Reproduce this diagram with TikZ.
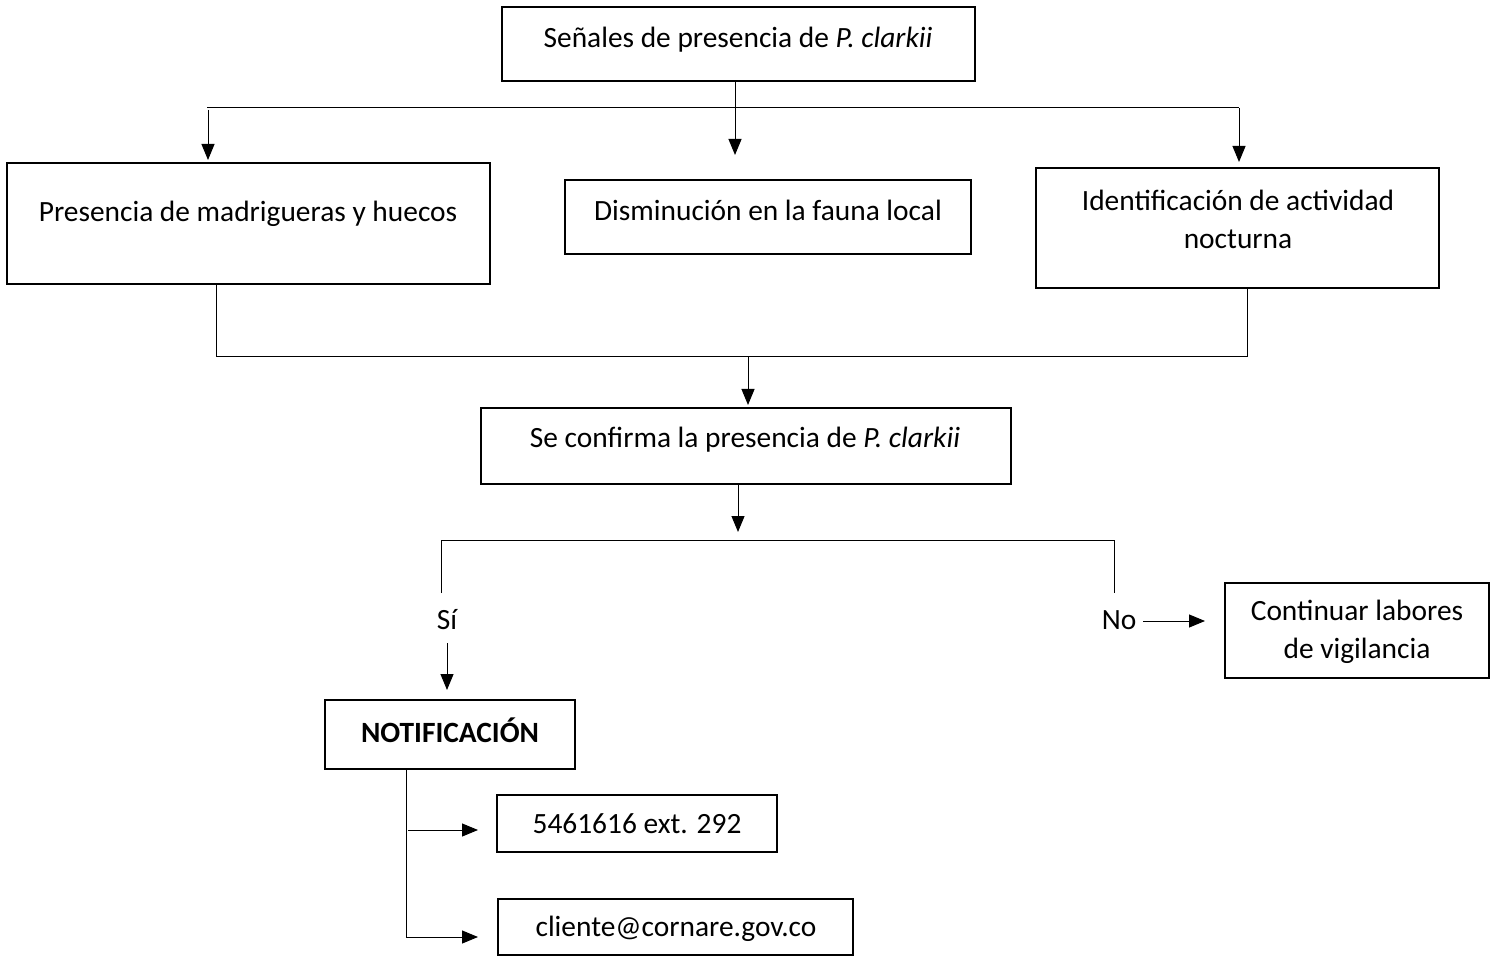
\documentclass[tikz,border=0pt]{standalone}
\usepackage{fontspec}
\setmainfont{Carlito}
\usetikzlibrary{arrows.meta}
\begin{document}
\begin{tikzpicture}[x=0.5pt,y=-0.5pt,
  box/.style={draw,line width=1pt,inner sep=0pt,rectangle},
  txt/.style={inner sep=0pt,font=\fontsize{14.7}{19}\selectfont,align=center},
  ln/.style={line width=0.5pt},
  arr/.style={line width=0.5pt,-{Triangle[length=8pt,width=6.5pt]}}]
\useasboundingbox (0,0) rectangle (1497,956);
% boxes
\node[box,minimum width=236.5pt,minimum height=37pt] (top) at (738.5,44) {};
\node[box,minimum width=241.5pt,minimum height=60.5pt] (left) at (248.5,223.5) {};
\node[box,minimum width=203pt,minimum height=37pt] (mid) at (768,217) {};
\node[box,minimum width=201.5pt,minimum height=60pt] (right) at (1237.5,228) {};
\node[box,minimum width=265pt,minimum height=38pt] (conf) at (746,446) {};
\node[box,minimum width=132pt,minimum height=47.5pt] (cont) at (1357,630.5) {};
\node[box,minimum width=125pt,minimum height=34.5pt] (notif) at (450,734.5) {};
\node[box,minimum width=140pt,minimum height=28.5pt] (phone) at (637,823.5) {};
\node[box,minimum width=177.5pt,minimum height=28pt] (email) at (675.5,927) {};
% texts
\node[txt] (ttop) at (738,40) {Señales de presencia de \textit{P. clarkii}};
\node[txt] (tleft) at (248,214) {Presencia de madrigueras y huecos};
\node[txt] (tmid) at (768,210) {Disminución en la fauna local};
\node[txt] (tright) at (1238,219) {Identificación de actividad\\nocturna};
\node[txt] (tconf) at (745,440) {Se confirma la presencia de \textit{P. clarkii}};
\node[txt] (tcont) at (1357,632) {Continuar labores\\de vigilancia};
\node[txt,font=\fontsize{14.7}{19}\selectfont\bfseries] (tnotif) at (450,730) {NOTIFICACIÓN};
\node[txt] (tphone) at (637,824) {5461616 ext. 292};
\node[txt] (temail) at (676,929) {cliente@cornare.gov.co};
\node[txt] (si) at (447,620) {Sí};
\node[txt] (no) at (1119,620) {No};
% coordinates
\coordinate (h1l) at (207,108);
\coordinate (h1r) at (1239,108);
\coordinate (a1s) at (208,110);
\coordinate (a1e) at (208,160);
\coordinate (a2e) at (735,155);
\coordinate (a3s) at (1239,108);
\coordinate (a3e) at (1239,162);
\coordinate (j1) at (216,357);
\coordinate (j2) at (1247,357);
\coordinate (a4s) at (748,357);
\coordinate (a4e) at (748,405);
\coordinate (a5e) at (738,532);
\coordinate (b1) at (441,540);
\coordinate (b2) at (1114,540);
\coordinate (b1d) at (441,593);
\coordinate (b2d) at (1114,593);
\coordinate (a6s) at (447,643);
\coordinate (a6e) at (447,690);
\coordinate (nos) at (1143,621);
\coordinate (noe) at (1205,621);
\coordinate (n2) at (406,937);
\coordinate (p1) at (408,830);
\coordinate (p1e) at (478,830);
\coordinate (e1e) at (478,937);
% connectors
\draw[ln] (h1l) -- (h1r);
\draw[arr] (a1s) -- (a1e);
\draw[arr] (top.south -| a2e) -- (a2e);
\draw[arr] (a3s) -- (a3e);
\draw[ln] (left.south -| j1) -- (j1) -- (j2) -- (right.south -| j2);
\draw[arr] (a4s) -- (a4e);
\draw[arr] (conf.south -| a5e) -- (a5e);
\draw[ln] (b1d) -- (b1) -- (b2) -- (b2d);
\draw[arr] (a6s) -- (a6e);
\draw[arr] (nos) -- (noe);
\draw[ln] (notif.south -| n2) -- (n2);
\draw[arr] (p1) -- (p1e);
\draw[arr] (n2) -- (e1e);
\end{tikzpicture}
\end{document}
